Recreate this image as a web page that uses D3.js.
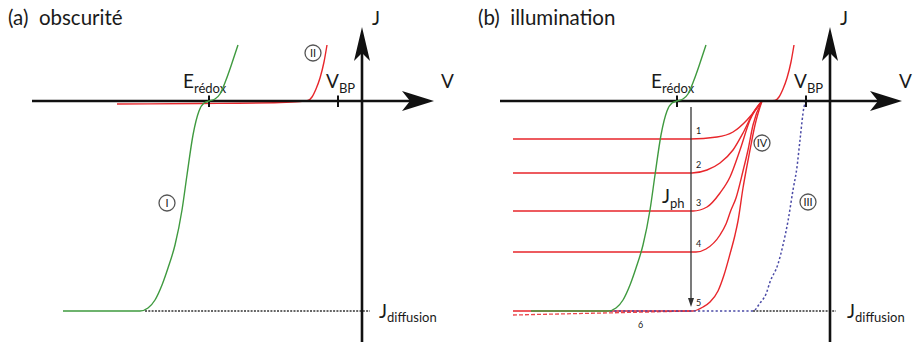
<!DOCTYPE html>
<html><head><meta charset="utf-8">
<script src="https://cdn.jsdelivr.net/npm/d3@7"></script>
<style>
body{margin:0;background:#fff}
svg{display:block}
text{font-family:Lato,"Open Sans",sans-serif;fill:#1a1a1a}
</style>
</head><body>
<svg id="c" width="913" height="342"></svg>
<script>
// ---------- data (V, J in arbitrary units; origin = axes crossing) ----------
const panelTitles = ["(a)  obscurité", "(b)  illumination"];
const vDomain = [-33, 7.5];
const jDomain = [-24.1, 7.4];
const E_redox = -15.3;
const V_BP = -2.4;
const J_diffusion = -21.0;

// curve I : redox couple (green) – same in both panels
const curveI_V = [-29.9,-22.2,-21.4,-20.7,-20.0,-19.4,-18.7,-18.0,-17.5,-16.9,-16.3,-15.8,-15.3,-14.7,-14.2,-13.6,-13.0,-12.4];
const curveI_J = [-21.0,-21.0,-20.7,-19.9,-18.4,-16.7,-14.4,-10.9,-7.4,-3.4,-1.0,-0.2,0.0,0.2,0.7,2.1,3.8,5.6];

// curve II : dark semiconductor (red)
const curveIIa_V = [-24.5,-16.2,-8.2,-6.2,-5.4,-5.0,-4.6,-4.2,-3.8,-3.5];
const curveIIa_J = [-0.3,-0.25,-0.15,-0.05,0.05,0.4,1.2,2.3,3.9,5.6];
const curveIIb_V = [-6.8,-6.0,-5.5,-5.1,-4.7,-4.3,-3.9,-3.6];
const curveIIb_J = [0.0,0.0,0.05,0.4,1.2,2.3,3.9,5.6];

// curves IV : illuminated, increasing light intensity 1..5 (red)
const curveIV_V = [
  [-31.7,-14.0,-11.3,-9.7,-8.3,-7.3,-6.8],
  [-31.7,-13.8,-12.3,-11.0,-9.7,-8.7,-7.7,-6.8],
  [-31.7,-13.7,-12.3,-11.0,-10.0,-9.0,-8.0,-6.8],
  [-31.7,-13.4,-12.4,-11.0,-10.4,-9.9,-9.4,-8.7,-8.2,-7.7,-6.8],
  [-31.7,-13.7,-12.7,-12.0,-11.2,-10.6,-10.0,-9.5,-9.2,-8.7,-8.4,-8.0,-7.5,-6.8]
];
const curveIV_J = [
  [-3.8,-3.8,-3.6,-3.1,-1.9,-0.7,0.0],
  [-7.2,-7.2,-6.9,-6.2,-4.9,-3.2,-1.2,0.0],
  [-11.0,-11.0,-10.6,-9.2,-7.6,-4.9,-1.9,0.0],
  [-15.1,-15.1,-14.8,-13.4,-12.3,-10.9,-9.7,-7.0,-4.9,-2.4,0.0],
  [-21.0,-21.0,-20.6,-20.1,-19.0,-17.4,-15.3,-13.4,-12.0,-8.7,-7.0,-4.9,-2.4,0.0]
];
const curveIV_labels = ["1","2","3","4","5"];
// curve 6 (dashed red)
const curve6_V = [-31.7,-13.7];
const curve6_J = [-21.4,-21.0];

// curve III : ideal photo-electrode (blue dotted)
const curveIII_V = [-22.0,-7.7,-7.0,-6.4,-6.0,-5.2,-4.7,-4.2,-3.7,-3.3,-3.0,-2.6,-2.4];
const curveIII_J = [-21.0,-21.0,-20.2,-19.3,-18.1,-16.3,-14.4,-12.0,-8.9,-6.6,-3.9,-0.6,0.0];

const jph_V = -13.9;
const roman = {I:[-19.5,-10.2], II:[-4.9,4.8], IV:[-6.8,-4.2], III:[-2.2,-10.1]};

// ---------- drawing ----------
const svg = d3.select("#c");
const y = d3.scaleLinear().domain(jDomain).range([342, 27]);
const xA = d3.scaleLinear().domain(vDomain).range([32, 437]);
const xB = d3.scaleLinear().domain(vDomain).range([500, 905]);
const RED = "#e8262b", GREEN = "#3f9a3f", BLUE = "#4a4aa6", INK = "#111";

function lineGen(x){ return d3.line().x(d=>x(d[0])).y(d=>y(d[1])).curve(d3.curveMonotoneX); }
function zip(a,b){ return a.map((v,i)=>[v,b[i]]); }

function axes(g, x, title, titleX, vLabelX){
  const x0 = x(0), y0 = y(0);
  const xl = x(vDomain[0]), xt = x(7.2);
  const yb = y(jDomain[0]), yt = y(jDomain[1]);
  g.append("line").attr("x1",xl).attr("x2",xt-20).attr("y1",y0).attr("y2",y0)
    .attr("stroke",INK).attr("stroke-width",2.6);
  g.append("line").attr("x1",x0).attr("x2",x0).attr("y1",yb).attr("y2",yt+20)
    .attr("stroke",INK).attr("stroke-width",2.6);
  g.append("path").attr("fill",INK)
    .attr("d",`M${xt},${y0} L${xt-32},${y0-10} L${xt-24},${y0} L${xt-32},${y0+10} Z`);
  g.append("path").attr("fill",INK)
    .attr("d",`M${x0},${yt} L${x0+8},${yt+34} L${x0},${yt+26} L${x0-8},${yt+34} Z`);
  // ticks
  [E_redox, V_BP].forEach(v=>{
    g.append("line").attr("x1",x(v)).attr("x2",x(v)).attr("y1",y0-5.5).attr("y2",y0+6)
      .attr("stroke",INK).attr("stroke-width",2);
  });
  g.append("text").attr("x",x0+10).attr("y",25).attr("font-size",19).text("J");
  g.append("text").attr("x",vLabelX).attr("y",88).attr("font-size",19).text("V");
  g.append("text").attr("x",titleX).attr("y",25).attr("font-size",20.5).attr("xml:space","preserve").text(title);
  // labels
  const e = g.append("text").attr("x",x(E_redox)-26).attr("y",88).attr("font-size",19);
  e.append("tspan").text("E");
  e.append("tspan").attr("font-size",13).attr("dy",5).text("rédox");
  const vb = g.append("text").attr("x",x(V_BP)-12).attr("y",88).attr("font-size",19);
  vb.append("tspan").text("V");
  vb.append("tspan").attr("font-size",13).attr("dy",5).text("BP");
  const jd = g.append("text").attr("x",x0+17).attr("y",y(J_diffusion)+7).attr("font-size",19);
  jd.append("tspan").text("J");
  jd.append("tspan").attr("font-size",13).attr("dy",4).text("diffusion");
}

function romanLabel(g, x, key){
  const [v,j] = roman[key];
  g.append("circle").attr("cx",x(v)).attr("cy",y(j)).attr("r",8)
    .attr("fill","#fff").attr("stroke","#555").attr("stroke-width",1.3);
  g.append("text").attr("x",x(v)).attr("y",y(j)+4).attr("text-anchor","middle")
    .attr("font-family","'DejaVu Serif',serif").attr("font-size",11)
    .attr("fill","#4a4a4a").text(key);
}

// Panel (a)
const ga = svg.append("g");
ga.append("path").attr("d",`M${xA(-21.7)},${y(J_diffusion)} H${xA(0.8)}`)
  .attr("stroke","#333").attr("stroke-width",1.3).attr("stroke-dasharray","2,1.3").attr("fill","none");
ga.append("path").attr("d",lineGen(xA)(zip(curveIIa_V,curveIIa_J)))
  .attr("stroke",RED).attr("stroke-width",1.4).attr("fill","none");
axes(ga, xA, panelTitles[0], 8, 441);
ga.append("path").attr("d",lineGen(xA)(zip(curveI_V,curveI_J)))
  .attr("stroke",GREEN).attr("stroke-width",1.4).attr("fill","none");
romanLabel(ga, xA, "I");
romanLabel(ga, xA, "II");

// Panel (b)
const gb = svg.append("g");
gb.append("path").attr("d",`M${xB(-7.7)},${y(J_diffusion)} H${xB(0.6)}`)
  .attr("stroke","#333").attr("stroke-width",1.3).attr("stroke-dasharray","2,1.3").attr("fill","none");
gb.append("path").attr("d",lineGen(xB)(zip(curve6_V,curve6_J)))
  .attr("stroke",RED).attr("stroke-width",1.3).attr("stroke-dasharray","4,2").attr("fill","none").attr("opacity",0.85);
curveIV_V.forEach((vs,i)=>{
  gb.append("path").attr("d",lineGen(xB)(zip(vs,curveIV_J[i])))
    .attr("stroke",RED).attr("stroke-width",1.4).attr("fill","none");
  gb.append("text").attr("x",xB(jph_V)+5).attr("y",y(curveIV_J[i][0])-5)
    .attr("font-size",9).attr("fill","#333").text(curveIV_labels[i]);
});
gb.append("text").attr("x",xB(-19.2)).attr("y",y(-22.4)+3).attr("font-size",9).attr("fill","#333").text("6");
gb.append("path").attr("d",lineGen(xB)(zip(curveIIb_V,curveIIb_J)))
  .attr("stroke",RED).attr("stroke-width",1.4).attr("fill","none");
gb.append("path").attr("d",lineGen(xB)(zip(curveIII_V,curveIII_J)))
  .attr("stroke",BLUE).attr("stroke-width",1.5).attr("stroke-dasharray","2.2,2.2").attr("fill","none");
axes(gb, xB, panelTitles[1], 478, 899);
gb.append("path").attr("d",lineGen(xB)(zip(curveI_V,curveI_J)))
  .attr("stroke",GREEN).attr("stroke-width",1.4).attr("fill","none");
// Jph arrow
gb.append("line").attr("x1",xB(jph_V)).attr("x2",xB(jph_V)).attr("y1",y(-0.6)).attr("y2",y(-19.9))
  .attr("stroke","#333").attr("stroke-width",1.3);
gb.append("path").attr("fill","#333")
  .attr("d",`M${xB(jph_V)},${y(-20.6)} l-3,-9 l6,0 Z`);
const jp = gb.append("text").attr("x",xB(jph_V)-29).attr("y",203).attr("font-size",19);
jp.append("tspan").text("J");
jp.append("tspan").attr("font-size",13).attr("dy",5).text("ph");
romanLabel(gb, xB, "IV");
romanLabel(gb, xB, "III");
</script>
</body></html>
